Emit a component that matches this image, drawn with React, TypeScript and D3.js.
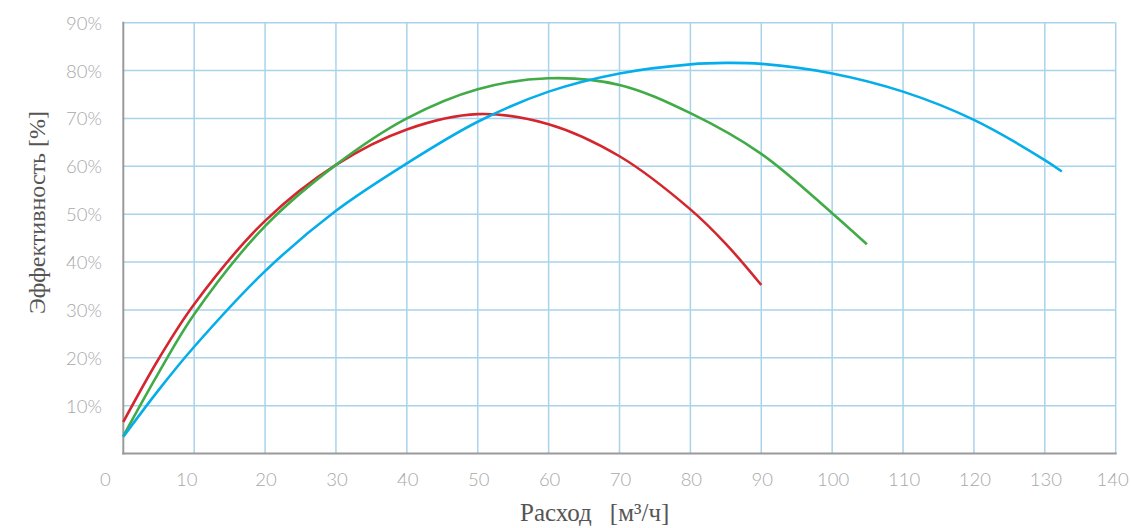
import React from "react";
import * as d3 from "d3";

const xTicks = [0, 10, 20, 30, 40, 50, 60, 70, 80, 90, 100, 110, 120, 130, 140];
const yTicks = [10, 20, 30, 40, 50, 60, 70, 80, 90];

const redX = [0, 5, 10, 20, 30, 40, 50, 60, 70, 80, 85, 90];
const redY = [6.6, 19.8, 31.2, 48.6, 60.3, 67.7, 70.9, 68.8, 62.1, 51.0, 43.8, 35.2];

const greenX = [0, 5, 10, 20, 30, 40, 50, 60, 70, 80, 90, 100, 104.9];
const greenY = [3.65, 16.9, 29.1, 47.5, 60.3, 70.0, 76.1, 78.4, 77.0, 71.1, 62.6, 50.2, 43.7];

const blueX = [0, 5, 10, 20, 30, 40, 50, 60, 70, 80, 85, 90, 100, 110, 120, 130, 132.4];
const blueY = [3.5, 13.3, 22.3, 38.1, 50.7, 60.6, 69.3, 75.6, 79.4, 81.3, 81.6, 81.4, 79.4, 75.6, 69.7, 61.3, 58.9];

const xTitle = "Расход";
const xUnit = "[м³/ч]";
const yTitle = "Эффективность [%]";

const W = 1131;
const H = 528;
const left = 123.3;
const right = 1115.7;
const top = 22.7;
const bottom = 453.5;

export default function App() {
  const x = d3.scaleLinear().domain([0, 140]).range([left, right]);
  const y = d3.scaleLinear().domain([0, 90]).range([bottom, top]);
  const line = d3
    .line<[number, number]>()
    .x((d) => x(d[0]))
    .y((d) => y(d[1]))
    .curve(d3.curveCatmullRom.alpha(0.5));
  const series = [
    { xs: redX, ys: redY, color: "#d4262e" },
    { xs: greenX, ys: greenY, color: "#41ab48" },
    { xs: blueX, ys: blueY, color: "#05aeea" },
  ];
  const labelShift = (v: number) =>
    v === 0 ? -18 : v === 10 ? -7.5 : v === 140 ? -3 : 1;
  const gridColor = "#a9d3ea";
  const tickFont = "Lato, 'Open Sans', sans-serif";
  const serif = "'Liberation Serif', 'DejaVu Serif', serif";
  return (
    <svg
      width={W}
      height={H}
      style={{ position: "absolute", left: 0, top: 0, background: "#fff" }}
    >
      {xTicks.slice(1).map((v) => (
        <line key={"gx" + v} x1={x(v)} x2={x(v)} y1={y(90)} y2={bottom} stroke={gridColor} strokeWidth={1.5} />
      ))}
      {yTicks.map((v) => (
        <line key={"gy" + v} x1={left} x2={right} y1={y(v)} y2={y(v)} stroke={gridColor} strokeWidth={1.5} />
      ))}
      <line x1={left} x2={left} y1={top - 1} y2={bottom + 1} stroke="#9a9a9a" strokeWidth={2} />
      <line x1={left - 1} x2={right + 1} y1={bottom} y2={bottom} stroke="#9a9a9a" strokeWidth={2} />
      {series.map((s, i) => (
        <path
          key={i}
          d={line(s.xs.map((v, j) => [v, s.ys[j]] as [number, number])) || ""}
          fill="none"
          stroke={s.color}
          strokeWidth={2.6}
        />
      ))}
      {yTicks.map((v) => (
        <text
          key={"yl" + v}
          x={102}
          y={y(v)}
          textAnchor="end"
          dominantBaseline="central"
          fontFamily={tickFont}
          fontWeight={300}
          fontSize={18.5}
          fill="#a8a8a8"
        >
          {v}%
        </text>
      ))}
      {xTicks.map((v) => (
        <text
          key={"xl" + v}
          x={x(v) + labelShift(v)}
          y={479}
          textAnchor="middle"
          dominantBaseline="central"
          fontFamily={tickFont}
          fontWeight={300}
          fontSize={18.5}
          fill="#a8a8a8"
        >
          {v}
        </text>
      ))}
      <text x={520} y={521} fontFamily={serif} fontSize={25} fill="#555">
        {xTitle}
        <tspan dx={18}>{xUnit}</tspan>
      </text>
      <text
        transform={`translate(45, 212.5) rotate(-90)`}
        textAnchor="middle"
        fontFamily={serif}
        fontSize={24}
        fill="#555"
      >
        {yTitle}
      </text>
    </svg>
  );
}
